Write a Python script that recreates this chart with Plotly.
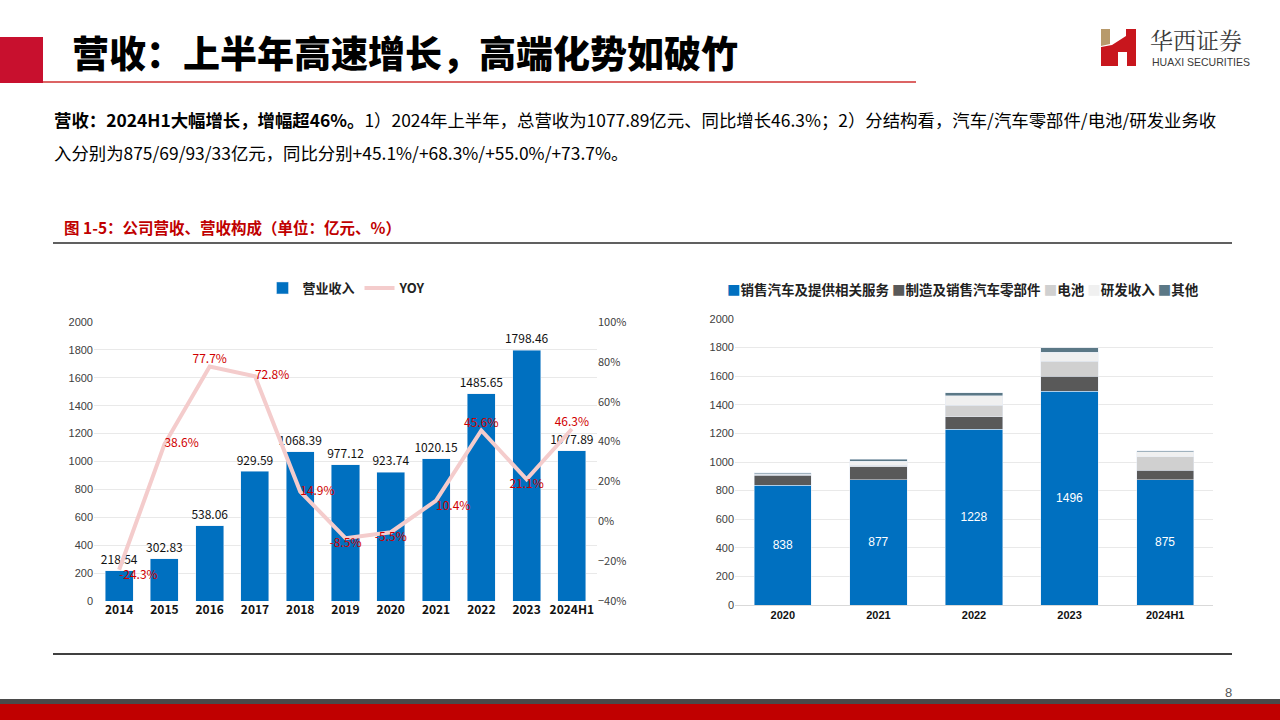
import plotly.graph_objects as go

# ---------------- data ----------------
years = ["2014", "2015", "2016", "2017", "2018", "2019", "2020", "2021", "2022", "2023", "2024H1"]
revenue = [218.54, 302.83, 538.06, 929.59, 1068.39, 977.12, 923.74, 1020.15, 1485.65, 1798.46, 1077.89]
yoy = [-24.3, 38.6, 77.7, 72.8, 14.9, -8.5, -5.5, 10.4, 45.6, 21.1, 46.3]
yoy_pos = ["bottom right", "middle right", "top center", "middle right", "middle right",
           "bottom center", "bottom center", "bottom right", "top center", "bottom center", "top center"]

seg_years = ["2020", "2021", "2022", "2023", "2024H1"]
seg_names = ["销售汽车及提供相关服务", "制造及销售汽车零部件", "电池", "研发收入", "其他"]
seg_auto = [838, 877, 1228, 1496, 875]
seg_parts = [71, 89, 88, 104, 69]
seg_battery = [5, 10, 82, 106, 93]
seg_rd = [4, 30, 67, 63, 33]
seg_other = [6, 14, 20, 29, 8]
seg_colors = ["#0070C0", "#595959", "#D0D0D0", "#F0F0F0", "#5B7886"]

title = "营收：上半年高速增长，高端化势如破竹"
body1 = "<b>营收：2024H1大幅增长，增幅超46%。</b>1）2024年上半年，总营收为1077.89亿元、同比增长46.3%；2）分结构看，汽车/汽车零部件/电池/研发业务收"
body2 = "入分别为875/69/93/33亿元，同比分别+45.1%/+68.3%/+55.0%/+73.7%。"
caption = "图 1-5：公司营收、营收构成（单位：亿元、%）"

FONT = "Noto Sans CJK SC"
W, H = 1280, 720


def px(x):
    return x / W


def py(y):
    return 1 - y / H


fig = go.Figure()

# ---------------- left chart ----------------
fig.add_trace(go.Bar(
    x=years, y=revenue, name="营业收入", marker_color="#0070C0", width=0.62,
    text=[f"{v:.2f}" for v in revenue], textposition="outside", cliponaxis=False,
    textfont=dict(size=13, color="#111", family=FONT),
    xaxis="x", yaxis="y", legend="legend",
))
fig.add_trace(go.Scatter(
    x=years, y=yoy, name="YOY", mode="lines+text",
    line=dict(color="#F4CCCC", width=4),
    text=[f"{v:.1f}%" for v in yoy], textposition=yoy_pos,
    textfont=dict(size=12, color="#D00000", family=FONT),
    cliponaxis=False,
    xaxis="x", yaxis="y2", legend="legend",
))

# ---------------- right chart ----------------
seg_values = [seg_auto, seg_parts, seg_battery, seg_rd, seg_other]
for i, (name, vals, col) in enumerate(zip(seg_names, seg_values, seg_colors)):
    kw = {}
    if i == 0:
        kw = dict(text=[str(v) for v in vals], textposition="inside", insidetextanchor="middle",
                  textfont=dict(size=12, color="white", family="Arial"))
    fig.add_trace(go.Bar(
        x=seg_years, y=vals, name=name, marker_color=col, width=0.6,
        xaxis="x3", yaxis="y3", showlegend=False, **kw,
    ))

fig.update_layout(
    width=W, height=H,
    margin=dict(l=0, r=0, t=0, b=0, pad=0, autoexpand=False),
    paper_bgcolor="white", plot_bgcolor="white",
    font=dict(family=FONT, color="#333"),
    barmode="stack",
    uniformtext=dict(minsize=12, mode="show"),
    showlegend=True,
    xaxis=dict(domain=[px(94), px(597)], anchor="y", showgrid=False, showline=False,
               ticks="", tickfont=dict(size=12, color="#111", family=FONT, weight="bold")),
    yaxis=dict(domain=[py(601), py(322)], anchor="x", range=[0, 2000], dtick=200, showgrid=True,
               gridcolor="#E9E9E9", zeroline=False, showline=False, ticks="",
               tickfont=dict(size=11, color="#404040", family="Arial")),
    yaxis2=dict(overlaying="y", side="right", anchor="x", range=[-40, 100], dtick=20,
                ticksuffix="%", showgrid=False, zeroline=False, showline=False, ticks="",
                tickfont=dict(size=11, color="#404040", family=FONT)),
    xaxis3=dict(domain=[px(735), px(1213)], anchor="y3", showgrid=False, showline=True,
                linecolor="#D9D9D9", ticks="", tickfont=dict(size=11, color="#111", family="Arial"),
                tickprefix="<b>", ticksuffix="</b>"),
    yaxis3=dict(domain=[py(605), py(319)], anchor="x3", range=[0, 2000], dtick=200, showgrid=True,
                gridcolor="#E9E9E9", zeroline=False, showline=False, ticks="",
                tickfont=dict(size=11, color="#404040", family="Arial")),
    legend=dict(orientation="h", x=px(347), y=py(288), xanchor="center", yanchor="middle",
                font=dict(size=13, color="#222", family=FONT, weight="bold"),
                bgcolor="rgba(0,0,0,0)", itemwidth=30, traceorder="normal"),
)

shapes = []
# header red block and underline
shapes.append(dict(type="rect", xref="paper", yref="paper", x0=px(0), x1=px(43), y0=py(83), y1=py(37),
                   fillcolor="#C8102E", line_width=0, layer="above"))
shapes.append(dict(type="line", xref="paper", yref="paper", x0=px(43), x1=px(916), y0=py(82), y1=py(82),
                   line=dict(color="#D03030", width=1.5)))
# logo
shapes.append(dict(type="path", xref="paper", yref="paper",
                   path=f"M {px(1101)},{py(29)} L {px(1110)},{py(29)} L {px(1110)},{py(44)} L {px(1101)},{py(46)} Z",
                   fillcolor="#B89A6B", line_width=0))
shapes.append(dict(type="path", xref="paper", yref="paper",
                   path=(f"M {px(1101)},{py(47)} L {px(1112)},{py(45)} L {px(1126)},{py(36)} L {px(1126)},{py(29)} "
                         f"L {px(1136)},{py(29)} L {px(1136)},{py(66)} L {px(1127)},{py(66)} L {px(1127)},{py(52)} "
                         f"L {px(1118)},{py(52)} L {px(1118)},{py(66)} L {px(1101)},{py(66)} Z"),
                   fillcolor="#C8161D", line_width=0))
# rule below caption
shapes.append(dict(type="line", xref="paper", yref="paper", x0=px(53), x1=px(1232), y0=py(243), y1=py(243),
                   line=dict(color="#606060", width=2)))
# bottom rule
shapes.append(dict(type="line", xref="paper", yref="paper", x0=px(53), x1=px(1232), y0=py(654), y1=py(654),
                   line=dict(color="#404040", width=2)))
# footer bands
shapes.append(dict(type="rect", xref="paper", yref="paper", x0=0, x1=1, y0=py(704), y1=py(699),
                   fillcolor="#4A4A4A", line_width=0))
shapes.append(dict(type="rect", xref="paper", yref="paper", x0=0, x1=1, y0=0, y1=py(704),
                   fillcolor="#C00000", line_width=0))
fig.update_layout(shapes=shapes)

ann = []
ann.append(dict(text=title, x=px(70), y=py(52), xref="paper", yref="paper",
                xanchor="left", yanchor="middle", showarrow=False,
                font=dict(size=37, color="#000", family=FONT, weight=900)))
ann.append(dict(text="华西证券", x=px(1148), y=py(39), xref="paper", yref="paper",
                xanchor="left", yanchor="middle", showarrow=False,
                font=dict(size=23, color="#3A3A3A", family="Noto Serif CJK SC, Noto Sans CJK SC")))
ann.append(dict(text="HUAXI SECURITIES", x=px(1150), y=py(62), xref="paper", yref="paper",
                xanchor="left", yanchor="middle", showarrow=False,
                font=dict(size=10.5, color="#3A3A3A", family="Liberation Sans Narrow, Arial")))
ann.append(dict(text=body1, x=px(52), y=py(120), xref="paper", yref="paper",
                xanchor="left", yanchor="middle", showarrow=False,
                font=dict(size=17.4, color="#000", family=FONT)))
ann.append(dict(text=body2, x=px(52), y=py(152), xref="paper", yref="paper",
                xanchor="left", yanchor="middle", showarrow=False,
                font=dict(size=17.4, color="#000", family=FONT)))
ann.append(dict(text=f"<b>{caption}</b>", x=px(62), y=py(227), xref="paper", yref="paper",
                xanchor="left", yanchor="middle", showarrow=False,
                font=dict(size=15.5, color="#C00000", family=FONT)))
ann.append(dict(text="8", x=px(1228), y=py(692), xref="paper", yref="paper",
                xanchor="center", yanchor="middle", showarrow=False,
                font=dict(size=13, color="#595959", family="Arial")))
# compact legend for the stacked chart
legend_html = "".join(
    f"<span style='color:{c}'>■</span>{n} " for n, c in zip(seg_names, seg_colors)
).strip()
ann.append(dict(text=f"<b>{legend_html}</b>", x=px(963), y=py(289), xref="paper", yref="paper",
                xanchor="center", yanchor="middle", showarrow=False,
                font=dict(size=13.5, color="#222", family=FONT)))
fig.update_layout(annotations=ann)

fig.write_html("out.html", config={"displayModeBar": False},
               post_script="document.body.style.margin='0';document.body.style.overflow='hidden';")
